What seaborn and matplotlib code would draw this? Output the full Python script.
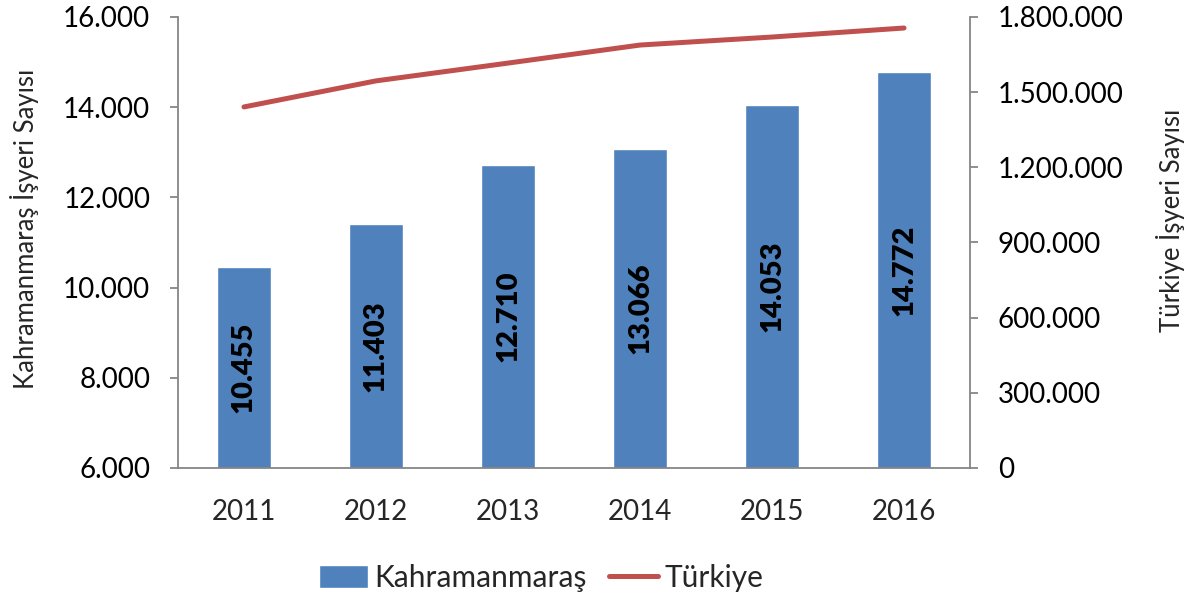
import seaborn as sns
import matplotlib.pyplot as plt
import pandas as pd
from matplotlib.ticker import FuncFormatter, FixedLocator
from matplotlib.patches import Patch
from matplotlib.lines import Line2D

# Data
years = ["2011", "2012", "2013", "2014", "2015", "2016"]
kahramanmaras = [10455, 11403, 12710, 13066, 14053, 14772]
turkiye = [1441000, 1545000, 1616000, 1688000, 1720000, 1756000]

df = pd.DataFrame({"Yıl": years, "Kahramanmaraş": kahramanmaras, "Türkiye": turkiye})

sns.set_style("white")
plt.rcParams["font.family"] = ["Lato", "DejaVu Sans"]

bar_color = "#4F81BD"
line_color = "#C0504D"
axis_color = "#868686"

fig = plt.figure(figsize=(11.92, 5.98), dpi=100)
ax = fig.add_axes([0.1493, 0.2174, 0.6645, 0.7542])

sns.barplot(data=df, x="Yıl", y="Kahramanmaraş", color=bar_color, width=0.41,
            saturation=1, ax=ax)
ax.set_ylim(6000, 16000)
ax.set_yticks(range(6000, 16001, 2000))

# value labels centred in the bars
for i, v in enumerate(kahramanmaras):
    ax.text(i, (6000 + v) / 2, f"{v:,}".replace(",", "."), rotation=90,
            ha="center", va="center", fontsize=21, fontweight="heavy", color="black")

ax2 = ax.twinx()
sns.pointplot(data=df, x="Yıl", y="Türkiye", color=line_color, markers="",
              linewidth=3.6, ax=ax2)
ax2.set_ylim(0, 1800000)
ax2.set_yticks(range(0, 1800001, 300000))

dot_fmt = FuncFormatter(lambda x, p: f"{x:,.0f}".replace(",", "."))
ax.yaxis.set_major_formatter(dot_fmt)
ax2.yaxis.set_major_formatter(dot_fmt)

ax.set_xlim(-0.5, len(years) - 0.5)
ax.set_xlabel("")
ax.set_ylabel("Kahramanmaraş İşyeri Sayısı", fontsize=18.5)
ax2.set_ylabel("Türkiye İşyeri Sayısı", fontsize=18.5)
ax.yaxis.set_label_coords(-0.175, 0.53)
ax2.yaxis.set_label_coords(1.235, 0.548)

for a in (ax, ax2):
    for s in a.spines.values():
        s.set_color(axis_color)
        s.set_linewidth(1.3)
    a.spines["top"].set_visible(False)
    a.tick_params(axis="y", labelsize=20, colors=axis_color, labelcolor="black",
                  length=6, width=1.3, direction="out", pad=14)
ax2.spines["left"].set_visible(False)
ax.spines["right"].set_visible(False)
ax2.spines["bottom"].set_visible(False)

# category boundary ticks on the x axis
ax.xaxis.set_minor_locator(FixedLocator([i - 0.5 for i in range(len(years) + 1)]))
ax.tick_params(axis="x", which="major", length=0, labelsize=20, pad=22)
ax.tick_params(axis="x", which="minor", length=8, width=1.3, color=axis_color,
               direction="out")

handles = [Patch(facecolor=bar_color, label="Kahramanmaraş"),
           Line2D([0], [0], color=line_color, lw=3.6, label="Türkiye")]
fig.legend(handles=handles, loc="center", bbox_to_anchor=(0.454, 0.033), ncol=2,
           frameon=False, fontsize=21.5, handlelength=1.65, handleheight=0.8,
           handletextpad=0.2, columnspacing=0.75)

fig.savefig("out.png", dpi=100)
